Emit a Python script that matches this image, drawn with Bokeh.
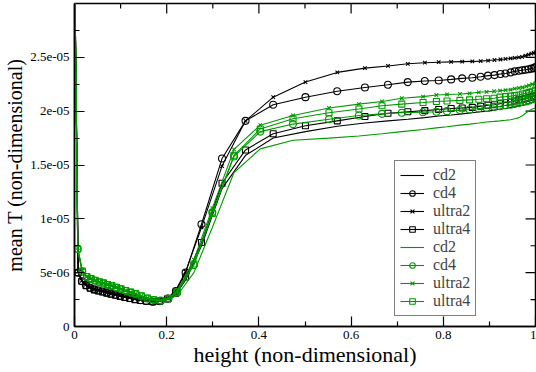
import math
from bokeh.plotting import figure
from bokeh.models import FixedTicker, Legend, LegendItem, Range1d
from bokeh.embed import file_html
from bokeh.resources import INLINE

# ---------------- data (mean T in units of 1e-6) ----------------
height_black = [0.0, 0.008, 0.016, 0.025, 0.034, 0.043, 0.052, 0.061, 0.070, 0.079,
                0.089, 0.099, 0.109, 0.120, 0.131, 0.143, 0.156, 0.170, 0.185, 0.202,
                0.220, 0.241, 0.2755, 0.320, 0.371, 0.431, 0.501, 0.570, 0.630, 0.680,
                0.723, 0.760, 0.790, 0.817, 0.841, 0.863, 0.881, 0.897, 0.911, 0.924,
                0.935, 0.946, 0.955, 0.964, 0.971, 0.978, 0.985, 0.991, 0.996, 1.0]

black_cd2 = [35.0, 5.1, 4.3, 3.9, 3.65, 3.45, 3.35, 3.25, 3.15, 3.05, 2.95, 2.85, 2.75, 2.65,
             2.55, 2.45, 2.38, 2.32, 2.38, 2.55, 3.0,
             4.3, 7.5, 12.8, 15.9, 17.5, 18.1, 18.6, 18.9, 19.1, 19.25, 19.4, 19.55, 19.65,
             19.75, 19.85, 19.95, 20.0, 20.1, 20.2, 20.25, 20.35, 20.4, 20.5, 20.55, 20.65,
             20.7, 20.8, 20.85, 20.9]
black_cd4 = [35.0, 5.0, 4.2, 3.85, 3.6, 3.45, 3.35, 3.25, 3.15, 3.05, 2.95, 2.85, 2.75, 2.65,
             2.55, 2.45, 2.38, 2.3, 2.36, 2.6, 3.3,
             5.0, 9.5, 15.6, 19.1, 20.6, 21.3, 21.85, 22.2, 22.45, 22.7, 22.8, 22.85, 22.95,
             23.05, 23.1, 23.2, 23.3, 23.35, 23.45, 23.5, 23.6, 23.7, 23.75, 23.8, 23.85,
             23.9, 23.95, 24.0, 24.1]
black_ultra2 = [35.0, 5.1, 4.25, 3.9, 3.65, 3.5, 3.4, 3.3, 3.2, 3.1, 3.0, 2.9, 2.8, 2.7,
                2.6, 2.5, 2.42, 2.35, 2.4, 2.62, 3.4,
                5.1, 9.2, 14.9, 19.1, 21.3, 22.7, 23.6, 24.0, 24.2, 24.4, 24.5, 24.55, 24.58,
                24.6, 24.62, 24.65, 24.7, 24.75, 24.8, 24.85, 24.9, 24.95, 25.0, 25.05,
                25.15, 25.25, 25.35, 25.4, 25.45]
black_ultra4 = [35.0, 5.0, 4.2, 3.8, 3.55, 3.4, 3.3, 3.2, 3.1, 3.0, 2.9, 2.8, 2.7, 2.6,
                2.5, 2.42, 2.35, 2.3, 2.35, 2.55, 3.1,
                4.6, 7.8, 13.3, 16.4, 17.9, 18.65, 19.1, 19.5, 19.8, 19.95, 20.05, 20.15,
                20.25, 20.3, 20.35, 20.45, 20.55, 20.6, 20.7, 20.8, 20.85, 20.95, 21.05,
                21.1, 21.15, 21.25, 21.3, 21.4, 21.45]

height_green = [0.0, 0.007, 0.017, 0.027, 0.036, 0.045, 0.054, 0.063, 0.072, 0.081,
                0.091, 0.101, 0.111, 0.122, 0.133, 0.145, 0.158, 0.172, 0.187, 0.204,
                0.223, 0.259, 0.299, 0.346, 0.403, 0.474, 0.552, 0.617, 0.667, 0.710,
                0.756, 0.785, 0.808, 0.836, 0.857, 0.877, 0.894, 0.910, 0.923, 0.935,
                0.946, 0.955, 0.964, 0.972, 0.980, 0.986, 0.993, 1.0]

green_cd2 = [35.0, 7.1, 5.0, 4.55, 4.35, 4.2, 4.05, 3.95, 3.8, 3.7, 3.55, 3.4, 3.25, 3.1,
             2.95, 2.75, 2.58, 2.43, 2.38, 2.5, 2.9,
             5.0, 9.2, 14.3, 16.5, 17.3, 17.5, 17.7, 17.9, 18.1, 18.3, 18.45, 18.55, 18.7,
             18.8, 18.9, 19.0, 19.05, 19.1, 19.15, 19.2, 19.3, 19.4, 19.6, 19.85, 20.05,
             20.2, 20.3]
green_cd4 = [35.0, 7.2, 5.1, 4.6, 4.4, 4.25, 4.1, 4.0, 3.85, 3.75, 3.6, 3.45, 3.3, 3.15,
             3.0, 2.8, 2.6, 2.45, 2.4, 2.6, 3.2,
             5.7, 10.6, 15.8, 18.1, 18.8, 19.25, 19.6, 19.75, 19.85, 19.9, 19.95, 20.0,
             20.1, 20.15, 20.25, 20.3, 20.4, 20.45, 20.55, 20.6, 20.7, 20.75, 20.85, 20.9,
             21.0, 21.1, 21.2]
green_ultra2 = [35.0, 7.3, 5.2, 4.65, 4.45, 4.3, 4.15, 4.05, 3.9, 3.8, 3.65, 3.5, 3.35, 3.2,
                3.05, 2.85, 2.65, 2.5, 2.45, 2.65, 3.3,
                6.2, 11.0, 16.45, 18.7, 19.6, 20.3, 20.65, 20.9, 21.2, 21.35, 21.5, 21.55,
                21.6, 21.65, 21.75, 21.8, 21.85, 21.9, 21.95, 22.0, 22.1, 22.15, 22.2, 22.3,
                22.4, 22.5, 22.6]
green_ultra4 = [35.0, 7.2, 5.15, 4.65, 4.45, 4.3, 4.15, 4.05, 3.9, 3.8, 3.65, 3.5, 3.35, 3.2,
                3.05, 2.85, 2.65, 2.48, 2.42, 2.6, 3.2,
                5.8, 10.5, 15.9, 18.35, 19.3, 19.85, 20.2, 20.5, 20.65, 20.8, 20.9, 20.95,
                21.0, 21.05, 21.1, 21.15, 21.2, 21.3, 21.35, 21.4, 21.45, 21.5, 21.6, 21.65,
                21.75, 21.85, 21.95]

series_labels = ["cd2", "cd4", "ultra2", "ultra4"]

x_ticks = [0.0, 0.2, 0.4, 0.6, 0.8, 1.0]
x_tick_labels = ["0", "0.2", "0.4", "0.6", "0.8", "1"]
x_minor_ticks = [0.1, 0.3, 0.5, 0.7, 0.9]
y_ticks = [0, 5, 10, 15, 20, 25]
y_tick_labels = ["0", "5e-06", "1e-05", "1.5e-05", "2e-05", "2.5e-05"]
y_minor_ticks = [2.5, 7.5, 12.5, 17.5, 22.5, 27.5]
x_min, x_max = 0.0, 1.0
y_min, y_max = 0.0, 30.0

# ---------------- styling ----------------
FONT = "serif"
BLACK = "#000000"
GREEN = "#009900"

p = figure(width=536, height=372, output_backend="svg", toolbar_location=None,
           x_range=Range1d(x_min, x_max), y_range=Range1d(y_min, y_max),
           min_border_left=74, min_border_right=1, min_border_top=3, min_border_bottom=46,
           x_axis_label="height (non-dimensional)",
           y_axis_label="mean T (non-dimensional)")
p.grid.visible = False
p.outline_line_color = BLACK
p.outline_line_width = 1.5

xt = FixedTicker(ticks=x_ticks, minor_ticks=x_minor_ticks)
yt = FixedTicker(ticks=y_ticks, minor_ticks=y_minor_ticks)

def style_axis(ax, ticker):
    ax.ticker = ticker
    ax.axis_line_color = BLACK
    ax.axis_line_width = 1.5
    ax.major_tick_line_color = BLACK
    ax.minor_tick_line_color = BLACK
    ax.major_tick_line_width = 1.2
    ax.minor_tick_line_width = 1.2
    ax.major_tick_in = 10
    ax.major_tick_out = 0
    ax.minor_tick_in = 5
    ax.minor_tick_out = 0
    ax.major_label_text_font = FONT
    ax.major_label_text_color = BLACK
    ax.axis_label_text_font = FONT
    ax.axis_label_text_font_style = "normal"
    ax.axis_label_text_color = BLACK

xa = p.xaxis[0]
style_axis(xa, xt)
xa.major_label_overrides = dict(zip(x_ticks, x_tick_labels))
xa.major_label_text_font_size = "13px"
xa.major_label_standoff = 4
xa.axis_label_text_font_size = "22px"
xa.axis_label_standoff = 0

ya = p.yaxis[0]
style_axis(ya, yt)
ya.major_label_overrides = dict(zip(y_ticks, y_tick_labels))
ya.major_label_text_font_size = "13px"
ya.major_label_standoff = 5
ya.axis_label_text_font_size = "20px"
ya.axis_label_standoff = 1

# inward ticks on the top and right frame edges (from the same tick arrays)
tick_kw = dict(line_color=BLACK, line_width=1.2, length_units="screen")
p.ray(x=x_ticks, y=[y_max] * len(x_ticks), length=10, angle=-math.pi / 2, **tick_kw)
p.ray(x=x_minor_ticks, y=[y_max] * len(x_minor_ticks), length=5, angle=-math.pi / 2, **tick_kw)
p.ray(x=[x_max] * len(y_ticks), y=y_ticks, length=10, angle=math.pi, **tick_kw)
p.ray(x=[x_max] * len(y_minor_ticks), y=y_minor_ticks, length=5, angle=math.pi, **tick_kw)

items = []
def add_series(h, y, color, marker, label):
    r_line = p.line(h, y, line_color=color, line_width=1.1)
    rs = [r_line]
    if marker is not None:
        size = {"circle": 7, "square": 6, "x": 5}[marker]
        r_m = p.scatter(h, y, marker=marker, size=size, line_color=color,
                        fill_color=None, line_width=1.1)
        rs.append(r_m)
    items.append(LegendItem(label=label, renderers=rs))

markers = [None, "circle", "x", "square"]
for lab, ys, m in zip(series_labels, [black_cd2, black_cd4, black_ultra2, black_ultra4], markers):
    add_series(height_black, ys, BLACK, m, lab)
for lab, ys, m in zip(series_labels, [green_cd2, green_cd4, green_ultra2, green_ultra4], markers):
    add_series(height_green, ys, GREEN, m, lab)

legend = Legend(items=items, location=(320, 10))
legend.label_text_font = FONT
legend.label_text_font_size = "16px"
legend.label_height = 17
legend.glyph_height = 14
legend.glyph_width = 24
legend.label_standoff = 9
legend.spacing = 0
legend.padding = 5
legend.margin = 0
legend.border_line_color = BLACK
legend.border_line_width = 1
legend.background_fill_alpha = 1.0
p.add_layout(legend)

open("out.html", "w").write(file_html(p, INLINE))
